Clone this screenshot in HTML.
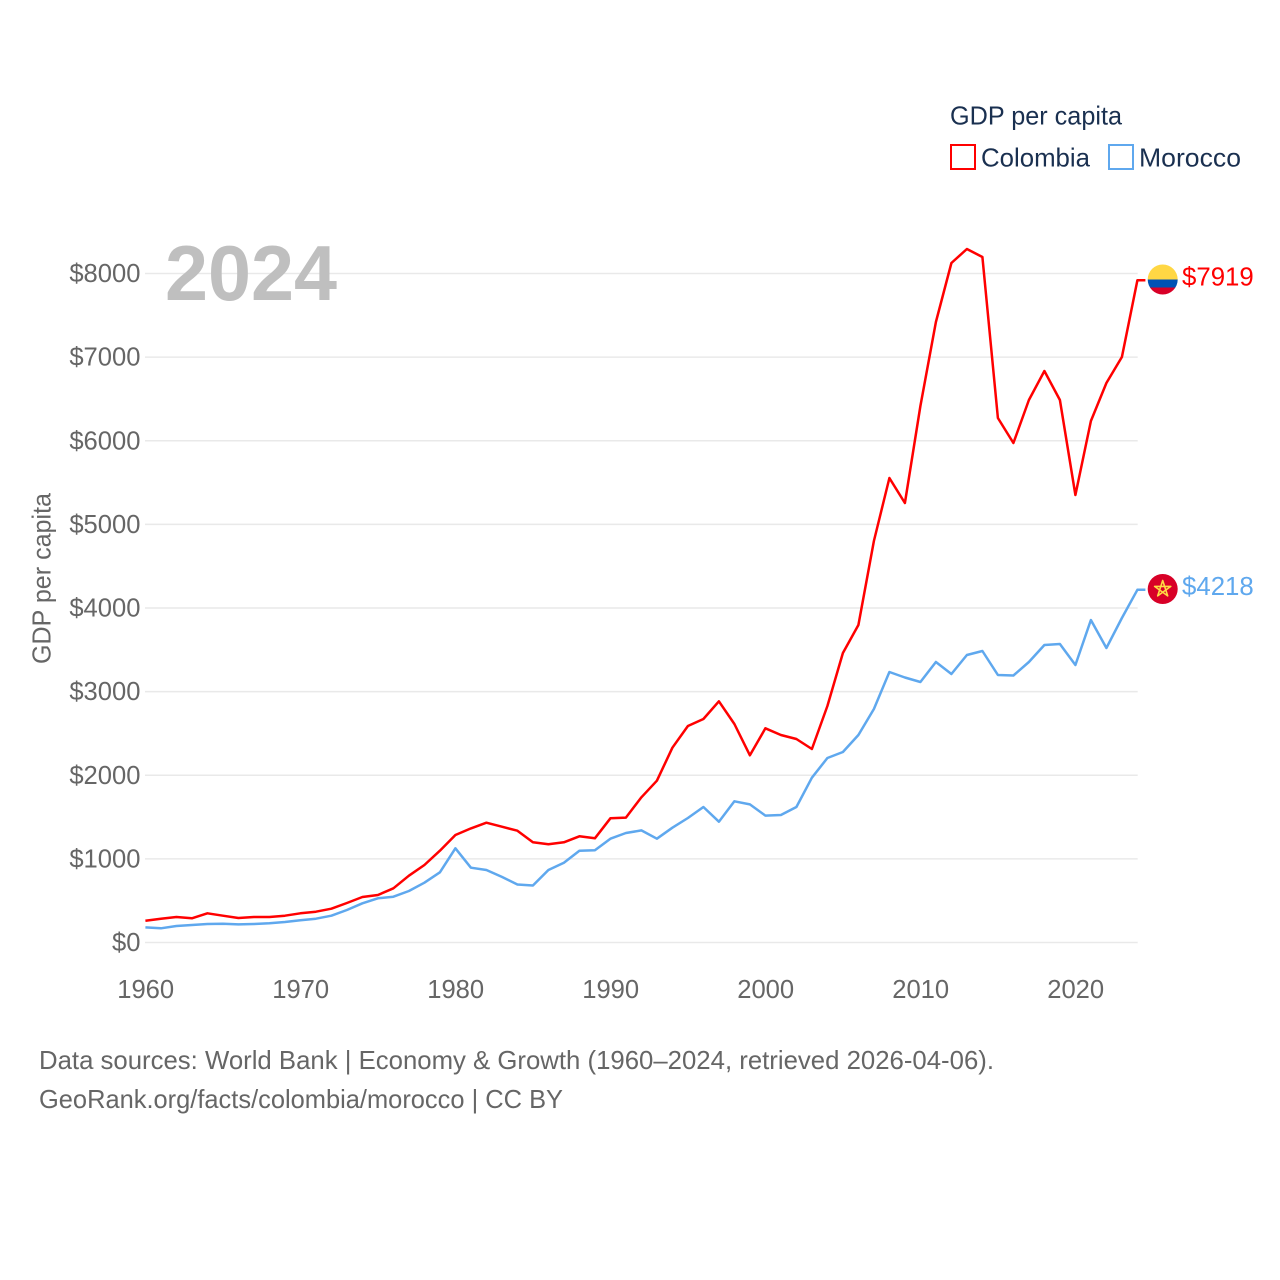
<!DOCTYPE html>
<html lang="en">
<head>
<meta charset="utf-8">
<title>GDP per capita: Colombia and Morocco</title>
<style>
  html, body { margin: 0; padding: 0; background: #ffffff; }
  svg { display: block; font-family: "Liberation Sans", sans-serif; }
</style>
</head>
<body>
<svg id="chart" xmlns="http://www.w3.org/2000/svg" width="1280" height="1280" viewBox="0 0 1280 1280">
  <rect x="0" y="0" width="1280" height="1280" fill="#ffffff"/>
  <g id="grid"></g>
  <g id="yticks"></g>
  <g id="xticks"></g>
  <text x="165" y="300" font-size="78" font-weight="700" fill="#bfbfbf" textLength="172" lengthAdjust="spacingAndGlyphs">2024</text>
  <text transform="translate(50.5 664) rotate(-90)" font-size="25.6" fill="#666666" textLength="171" lengthAdjust="spacingAndGlyphs">GDP per capita</text>
  <g id="series"></g>
  <g id="endmarks"></g>

  <defs>
    <clipPath id="clip-co"><circle cx="1162.7" cy="279.5" r="15"/></clipPath>
  </defs>
  <g id="flag-colombia" clip-path="url(#clip-co)">
    <rect x="1147" y="264" width="32" height="15.5" fill="#ffd744"/>
    <rect x="1147" y="279.5" width="32" height="8" fill="#0052b4"/>
    <rect x="1147" y="287.5" width="32" height="8" fill="#d80027"/>
  </g>
  <g id="flag-morocco">
    <circle cx="1162.7" cy="589" r="15" fill="#d80027"/>
    <polygon points="1162.7,580.5 1167.7,595.9 1154.6,586.4 1170.8,586.4 1157.7,595.9" fill="#d80027" stroke="#ffda44" stroke-width="1.6" stroke-linejoin="round"/>
  </g>

  <g id="legend">
    <text x="950" y="124.5" font-size="25.6" fill="#1a3050" textLength="172" lengthAdjust="spacingAndGlyphs">GDP per capita</text>
    <g>
      <rect x="951" y="145" width="24" height="24" fill="none" stroke="#ff0000" stroke-width="2"/>
      <text x="981" y="166.5" font-size="25.6" fill="#1a3050" textLength="109" lengthAdjust="spacingAndGlyphs">Colombia</text>
    </g>
    <g>
      <rect x="1109" y="145" width="24" height="24" fill="none" stroke="#5fa8ee" stroke-width="2"/>
      <text x="1139" y="166.5" font-size="25.6" fill="#1a3050" textLength="102" lengthAdjust="spacingAndGlyphs">Morocco</text>
    </g>
  </g>

  <text x="39" y="1069" font-size="25.6" fill="#666666" textLength="955" lengthAdjust="spacingAndGlyphs">Data sources: World Bank | Economy &amp; Growth (1960–2024, retrieved 2026-04-06).</text>
  <text x="39" y="1108" font-size="25.6" fill="#666666" textLength="524" lengthAdjust="spacingAndGlyphs">GeoRank.org/facts/colombia/morocco | CC BY</text>
</svg>

<script>
const startYear = 1960;
const yTickValues = [0, 1000, 2000, 3000, 4000, 5000, 6000, 7000, 8000];
const xTickYears = [1960, 1970, 1980, 1990, 2000, 2010, 2020];
const colombiaValues = [
  261, 285, 305, 289, 349, 320, 293, 305, 305, 320,
  349, 368, 404, 472, 544, 568, 648, 799, 927, 1098,
  1285, 1365, 1433, 1385, 1337, 1198, 1174, 1198, 1270, 1246,
  1485, 1493, 1736, 1935, 2330, 2589, 2673, 2884, 2613, 2238,
  2561, 2481, 2433, 2314, 2828, 3462, 3797, 4801, 5555, 5256,
  6416, 7420, 8126, 8293, 8197, 6272, 5973, 6487, 6834, 6487,
  5351, 6236, 6690, 7001, 7919
];
const moroccoValues = [
  181, 170, 197, 209, 221, 225, 217, 221, 229, 245,
  265, 285, 320, 389, 469, 528, 548, 616, 715, 839,
  1126, 895, 867, 784, 694, 682, 867, 954, 1098, 1102,
  1241, 1309, 1341, 1241, 1373, 1489, 1620, 1445, 1688, 1652,
  1517, 1525, 1620, 1971, 2206, 2278, 2481, 2792, 3235, 3169,
  3115, 3354, 3211, 3438, 3486, 3199, 3193, 3354, 3558, 3570,
  3318, 3857, 3522, 3880, 4218
];

const NS = 'http://www.w3.org/2000/svg';
function xScale(year) { return 145.4 + (year - 1960) * 15.5; }
function yScale(value) { return 942.5 - value * 0.083625; }

function make(tag, parent) {
  const el = document.createElementNS(NS, tag);
  document.getElementById(parent).appendChild(el);
  return el;
}

yTickValues.forEach(function (v) {
  const line = make('line', 'grid');
  
  
  line.setAttribute('x1', 145);
  line.setAttribute('x2', 1137.7);
  line.setAttribute('y1', yScale(v));
  line.setAttribute('y2', yScale(v));
  line.setAttribute('stroke', '#e9e9e9');
  line.setAttribute('stroke-width', 1.5);

  const label = make('text', 'yticks');
  
  
  label.setAttribute('x', 140.5);
  label.setAttribute('y', yScale(v) + 8.5);
  label.setAttribute('text-anchor', 'end');
  label.setAttribute('font-size', 25.6);
  label.setAttribute('fill', '#666666');
  label.textContent = '$' + v;
});

xTickYears.forEach(function (yr) {
  const label = make('text', 'xticks');
  
  
  label.setAttribute('x', xScale(yr) + 0.3);
  label.setAttribute('y', 998);
  label.setAttribute('text-anchor', 'middle');
  label.setAttribute('font-size', 25.6);
  label.setAttribute('fill', '#666666');
  label.textContent = String(yr);
});

function drawSeries(values, color, seriesName) {
  const pts = values.map(function (v, i) {
    return xScale(startYear + i).toFixed(1) + ',' + yScale(v).toFixed(1);
  });
  const lastYear = startYear + values.length - 1;
  const lastValue = values[values.length - 1];
  pts.push((xScale(lastYear) + 8).toFixed(1) + ',' + yScale(lastValue).toFixed(1));

  const path = make('polyline', 'series');
  
  
  path.setAttribute('points', pts.join(' '));
  path.setAttribute('fill', 'none');
  path.setAttribute('stroke', color);
  path.setAttribute('stroke-width', 2.5);
  path.setAttribute('stroke-linejoin', 'round');

  const label = make('text', 'endmarks');
  
  
  label.setAttribute('x', 1182);
  label.setAttribute('y', yScale(lastValue) + 5);
  label.setAttribute('font-size', 25.8);
  label.setAttribute('fill', color);
  label.textContent = '$' + lastValue;
}

drawSeries(colombiaValues, '#ff0000', 'colombia');
drawSeries(moroccoValues, '#5fa8ee', 'morocco');
</script>
</body>
</html>
